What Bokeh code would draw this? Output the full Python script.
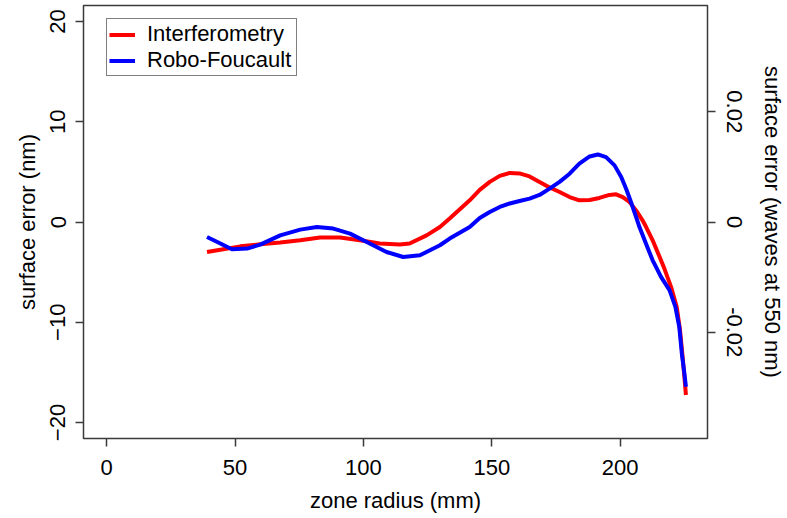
import math
from bokeh.plotting import figure
from bokeh.models import (Range1d, LinearAxis, FixedTicker, Legend, LegendItem)
from bokeh.embed import file_html
from bokeh.resources import INLINE

# ---- data ----
interf_radius = [39.1, 44.3, 52.1, 59.8, 67.6, 75.4, 83.1, 90.9, 98.6, 106.4,
                 114.2, 118.0, 124.6, 129.8, 133.6, 141.4, 145.3, 149.2, 153.1,
                 157.0, 160.8, 164.7, 168.6, 172.5, 176.4, 180.3, 184.1, 188.1,
                 191.9, 195.8, 198.4, 201.0, 203.6, 206.2, 208.7, 210.1, 212.6,
                 215.2, 217.2, 219.8, 222.0, 223.3, 224.3, 225.0, 225.6]
interf_error = [-3.0, -2.76, -2.43, -2.22, -2.05, -1.83, -1.55, -1.55, -1.82, -2.15,
                -2.25, -2.15, -1.33, -0.50, 0.34, 2.16, 3.2, 4.0, 4.6,
                4.9, 4.85, 4.55, 4.0, 3.45, 2.99, 2.49, 2.16, 2.2,
                2.4, 2.7, 2.76, 2.49, 2.0, 1.16, 0.17, -0.5, -1.8,
                -3.4, -4.65, -6.47, -8.46, -10.79, -13.45, -15.44, -17.26]

robo_radius = [39.1, 44.3, 48.8, 54.7, 59.8, 67.6, 75.4, 81.9, 88.3, 94.8,
               101.3, 109.0, 115.5, 122.0, 129.8, 133.6, 141.4, 145.3, 149.2,
               153.1, 157.0, 160.8, 164.7, 168.6, 172.5, 176.4, 180.3, 184.1,
               188.1, 191.3, 194.5, 197.8, 200.4, 202.3, 204.2, 206.2, 207.5,
               210.1, 212.6, 215.9, 219.2, 221.5, 223.0, 224.0, 225.0, 225.6]
robo_error = [-1.50, -2.15, -2.72, -2.65, -2.26, -1.33, -0.76, -0.50, -0.66, -1.16,
              -1.99, -2.99, -3.49, -3.32, -2.32, -1.65, -0.50, 0.4, 1.0,
              1.5, 1.85, 2.09, 2.33, 2.7, 3.33, 4.0, 4.82, 5.82,
              6.54, 6.74, 6.47, 5.65, 4.48, 3.32, 1.99, 0.50, -0.5,
              -2.2, -3.8, -5.48, -6.80, -8.46, -10.46, -13.11, -15.11, -16.43]

x_ticks = [0, 50, 100, 150, 200]
y_ticks = [-20, -10, 0, 10, 20]
wave_ticks = [-0.02, 0, 0.02]
wave_labels = {-0.02: "-0.02", 0: "0", 0.02: "0.02"}
wavelength_nm = 550.0

FONT = "Liberation Sans"
FS = "22px"
BOX = "#3a3a3a"

p = figure(width=787, height=518, output_backend="svg", toolbar_location=None,
           x_range=Range1d(-9, 234), y_range=Range1d(-21.6, 21.6),
           min_border_left=83, min_border_right=78, min_border_top=5,
           min_border_bottom=80)
p.background_fill_color = "white"
p.border_fill_color = "white"
p.xgrid.grid_line_color = None
p.ygrid.grid_line_color = None
p.outline_line_color = BOX
p.outline_line_width = 1.5
p.outline_line_alpha = 1.0

p.extra_y_ranges = {"waves": Range1d(-21.6 / wavelength_nm, 21.6 / wavelength_nm)}

r1 = p.line(interf_radius, interf_error, line_color="#ff0000", line_width=4,
            line_join="round", line_cap="butt")
r2 = p.line(robo_radius, robo_error, line_color="#0000ff", line_width=4,
            line_join="round", line_cap="butt")


def style_axis(ax):
    ax.axis_line_color = None
    ax.major_tick_line_color = BOX
    ax.major_tick_line_width = 1.5
    ax.major_tick_out = 8
    ax.major_tick_in = 0
    ax.minor_tick_line_color = None
    ax.major_label_text_font = FONT
    ax.major_label_text_font_size = FS
    ax.major_label_text_color = "black"
    ax.axis_label_text_font = FONT
    ax.axis_label_text_font_size = FS
    ax.axis_label_text_font_style = "normal"
    ax.axis_label_text_color = "black"


xa = p.xaxis[0]
style_axis(xa)
xa.ticker = FixedTicker(ticks=x_ticks)
xa.axis_label = "zone radius (mm)"
xa.major_label_standoff = 13
xa.axis_label_standoff = 10

ya = p.yaxis[0]
style_axis(ya)
ya.ticker = FixedTicker(ticks=y_ticks)
ya.axis_label = "surface error (nm)"
ya.major_label_orientation = "vertical"
ya.major_label_standoff = 10
ya.axis_label_standoff = 8

ra = LinearAxis(y_range_name="waves", axis_label="surface error (waves at 550 nm)")
style_axis(ra)
ra.ticker = FixedTicker(ticks=wave_ticks)
ra.major_label_overrides = wave_labels
ra.major_label_orientation = "vertical"
ra.major_label_standoff = 11
ra.axis_label_standoff = 15
p.add_layout(ra, "right")

legend = Legend(items=[LegendItem(label="Interferometry", renderers=[r1]),
                       LegendItem(label="Robo-Foucault", renderers=[r2])],
                location=(23, 362))
legend.label_text_font = FONT
legend.label_text_font_size = FS
legend.label_text_color = "black"
legend.border_line_color = "black"
legend.border_line_width = 1
legend.background_fill_color = "white"
legend.background_fill_alpha = 1.0
legend.glyph_width = 26
legend.glyph_height = 19
legend.label_height = 19
legend.label_width = 147
legend.label_standoff = 12
legend.spacing = 0
legend.padding = 2
legend.margin = 0
p.add_layout(legend)

open("out.html", "w").write(file_html(p, INLINE))
